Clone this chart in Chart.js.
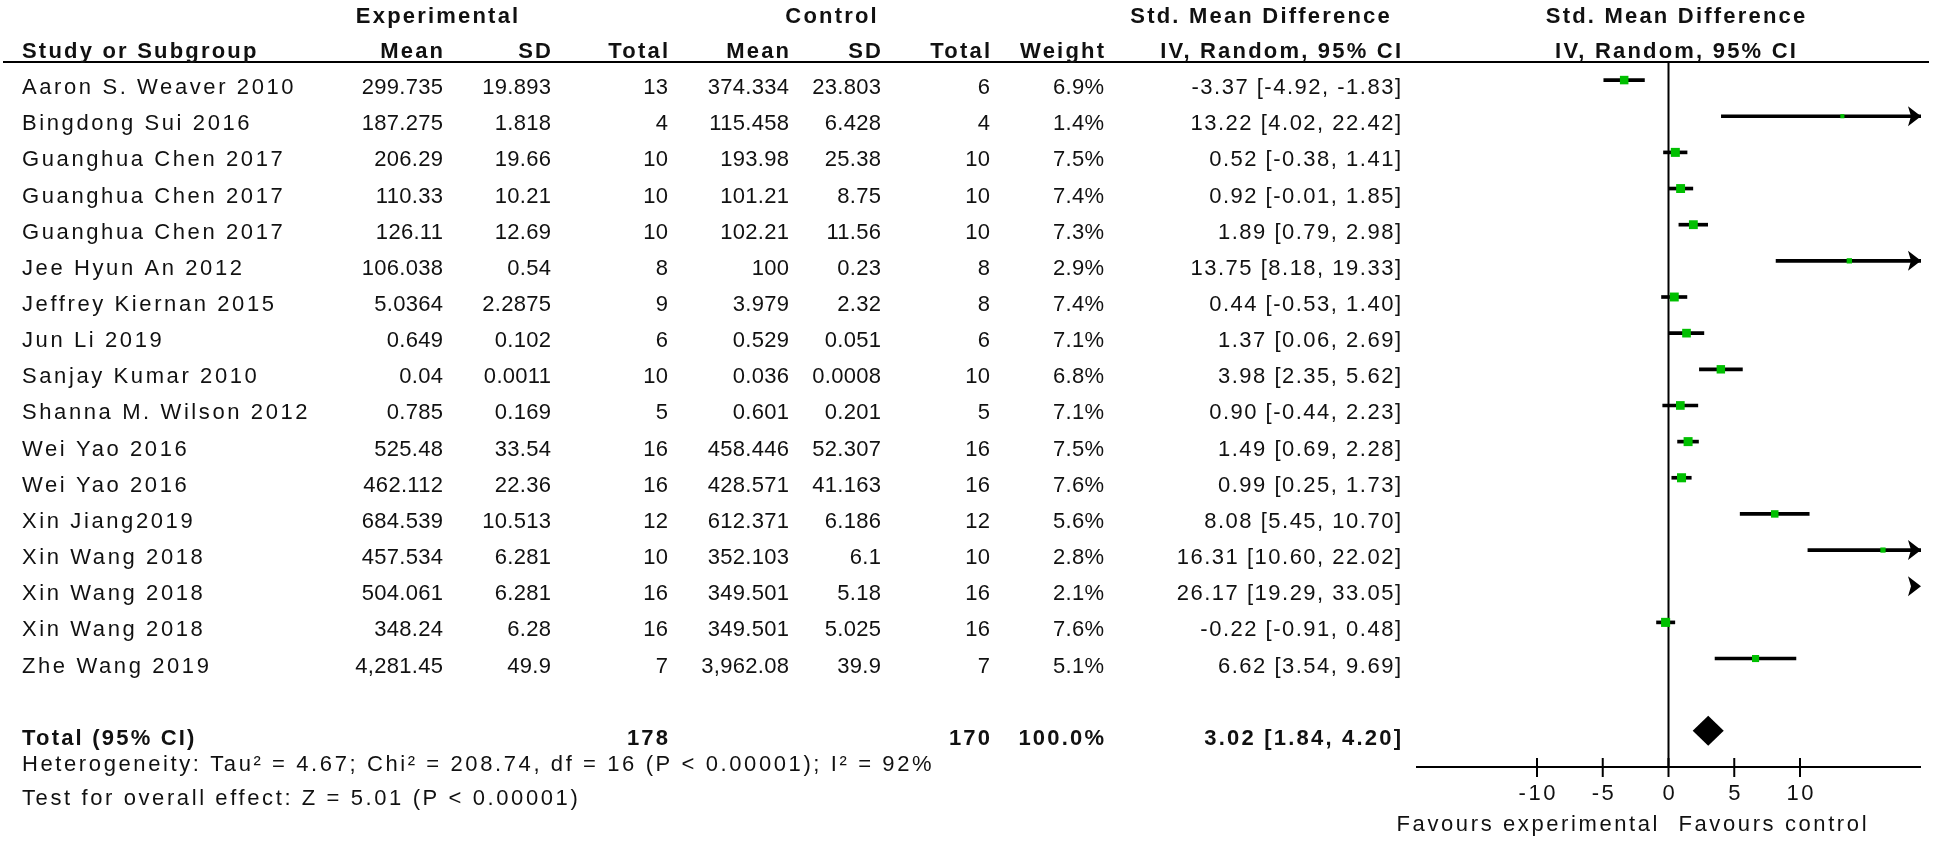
<!DOCTYPE html>
<html>
<head>
<meta charset="utf-8">
<script src="https://cdn.jsdelivr.net/npm/chart.js@4.4.1/dist/chart.umd.min.js"></script>
<style>
html,body{margin:0;padding:0;background:#fff;}
#wrap{position:relative;width:1946px;height:844px;}
</style>
</head>
<body>
<div id="wrap"><canvas id="forest"></canvas></div>
<script>
// forest plot: SMD, random effects
const studies = ["Aaron S. Weaver 2010","Bingdong Sui 2016","Guanghua Chen 2017","Guanghua Chen 2017","Guanghua Chen 2017","Jee Hyun An 2012","Jeffrey Kiernan 2015","Jun Li 2019","Sanjay Kumar 2010","Shanna M. Wilson 2012","Wei Yao 2016","Wei Yao 2016","Xin Jiang2019","Xin Wang 2018","Xin Wang 2018","Xin Wang 2018","Zhe Wang 2019"];
const expMean = ["299.735","187.275","206.29","110.33","126.11","106.038","5.0364","0.649","0.04","0.785","525.48","462.112","684.539","457.534","504.061","348.24","4,281.45"];
const expSD = ["19.893","1.818","19.66","10.21","12.69","0.54","2.2875","0.102","0.0011","0.169","33.54","22.36","10.513","6.281","6.281","6.28","49.9"];
const expN = [13,4,10,10,10,8,9,6,10,5,16,16,12,10,16,16,7];
const ctrlMean = ["374.334","115.458","193.98","101.21","102.21","100","3.979","0.529","0.036","0.601","458.446","428.571","612.371","352.103","349.501","349.501","3,962.08"];
const ctrlSD = ["23.803","6.428","25.38","8.75","11.56","0.23","2.32","0.051","0.0008","0.201","52.307","41.163","6.186","6.1","5.18","5.025","39.9"];
const ctrlN = [6,4,10,10,10,8,8,6,10,5,16,16,12,10,16,16,7];
const weight = [6.9,1.4,7.5,7.4,7.3,2.9,7.4,7.1,6.8,7.1,7.5,7.6,5.6,2.8,2.1,7.6,5.1];
const smd = [-3.37,13.22,0.52,0.92,1.89,13.75,0.44,1.37,3.98,0.90,1.49,0.99,8.08,16.31,26.17,-0.22,6.62];
const ciLo = [-4.92,4.02,-0.38,-0.01,0.79,8.18,-0.53,0.06,2.35,-0.44,0.69,0.25,5.45,10.60,19.29,-0.91,3.54];
const ciHi = [-1.83,22.42,1.41,1.85,2.98,19.33,1.40,2.69,5.62,2.23,2.28,1.73,10.70,22.02,33.05,0.48,9.69];

const totalExpN = 178, totalCtrlN = 170, totalWeight = "100.0%";
const pooled = 3.02, pooledLo = 1.84, pooledHi = 4.20;
const hetText = "Heterogeneity: Tau\u00b2 = 4.67; Chi\u00b2 = 208.74, df = 16 (P < 0.00001); I\u00b2 = 92%";
const testText = "Test for overall effect: Z = 5.01 (P < 0.00001)";
const xTicks = [-10, -5, 0, 5, 10];
const xMin = -19.2, xMax = 19.2;

const FONT = "'Liberation Sans', Arial, sans-serif";
const INK = "#111";
const GREEN = "#00bf00";
const COL = {name:22, expMean:443, expSD:551, expN:668, ctrlMean:789, ctrlSD:881, ctrlN:990, weight:1104, ci:1401};
const totalRow = studies.length + 1;

// letter spacing per kind of text
const SP = {word:2.6, num:0.3, ci:1.5, bold:2.2};

function fmt(v){ return v.toFixed(2); }

function txt(ctx, s, x, y, align, kind){
  const sp = SP[kind];
  ctx.font = (kind === "bold" ? "bold 22px " : "22px ") + FONT;
  ctx.letterSpacing = sp + "px";
  ctx.textAlign = align;
  ctx.textBaseline = "alphabetic";
  let dx = 0;
  if (align === "right") dx = sp;
  else if (align === "center") dx = sp/2;
  ctx.fillText(s, x + dx, y);
}

const forestDraw = {
  id: "forestDraw",
  beforeDatasetsDraw(chart){
    const {ctx, chartArea:a, scales:{x}} = chart;
    ctx.save();
    ctx.strokeStyle = "#000";
    ctx.lineWidth = 2;
    ctx.beginPath(); ctx.moveTo(3, a.top); ctx.lineTo(a.right + 8, a.top); ctx.stroke();
    const x0 = x.getPixelForValue(0);
    ctx.beginPath(); ctx.moveTo(x0, a.top); ctx.lineTo(x0, a.bottom); ctx.stroke();
    ctx.beginPath(); ctx.moveTo(a.left, a.bottom); ctx.lineTo(a.right, a.bottom); ctx.stroke();
    xTicks.forEach(function(t){
      const px = x.getPixelForValue(t);
      ctx.beginPath(); ctx.moveTo(px, a.bottom - 9); ctx.lineTo(px, a.bottom + 10); ctx.stroke();
    });
    ctx.restore();
  },
  afterDatasetsDraw(chart){
    const {ctx, scales:{x, y}} = chart;
    ctx.save();
    ctx.fillStyle = "#000";
    // arrows where CI runs past the axis
    ciHi.forEach(function(h, i){
      if (h <= x.max) return;
      const tip = x.getPixelForValue(x.max), py = y.getPixelForValue(i);
      ctx.beginPath();
      ctx.moveTo(tip, py);
      ctx.lineTo(tip - 13, py - 10);
      ctx.lineTo(tip - 10, py);
      ctx.lineTo(tip - 13, py + 10);
      ctx.closePath(); ctx.fill();
    });
    // pooled diamond
    const dy = y.getPixelForValue(totalRow);
    ctx.beginPath();
    ctx.moveTo(x.getPixelForValue(pooledLo), dy);
    ctx.lineTo(x.getPixelForValue(pooled), dy - 15);
    ctx.lineTo(x.getPixelForValue(pooledHi), dy);
    ctx.lineTo(x.getPixelForValue(pooled), dy + 15);
    ctx.closePath(); ctx.fill();

    // table
    ctx.fillStyle = INK;
    const h1 = 23, h2 = 58, midCI = 1260, midPlot = x.getPixelForValue(0) + 7;
    txt(ctx, "Experimental", 437, h1, "center", "bold");
    txt(ctx, "Control", 831, h1, "center", "bold");
    txt(ctx, "Std. Mean Difference", midCI, h1, "center", "bold");
    txt(ctx, "Std. Mean Difference", midPlot, h1, "center", "bold");
    txt(ctx, "Study or Subgroup", COL.name, h2, "left", "bold");
    txt(ctx, "Mean", COL.expMean, h2, "right", "bold");
    txt(ctx, "SD", COL.expSD, h2, "right", "bold");
    txt(ctx, "Total", COL.expN, h2, "right", "bold");
    txt(ctx, "Mean", COL.ctrlMean, h2, "right", "bold");
    txt(ctx, "SD", COL.ctrlSD, h2, "right", "bold");
    txt(ctx, "Total", COL.ctrlN, h2, "right", "bold");
    txt(ctx, "Weight", COL.weight, h2, "right", "bold");
    txt(ctx, "IV, Random, 95% CI", COL.ci, h2, "right", "bold");
    txt(ctx, "IV, Random, 95% CI", midPlot, h2, "center", "bold");

    studies.forEach(function(s, i){
      const by = y.getPixelForValue(i) + 14;
      txt(ctx, s, COL.name, by, "left", "word");
      txt(ctx, expMean[i], COL.expMean, by, "right", "num");
      txt(ctx, expSD[i], COL.expSD, by, "right", "num");
      txt(ctx, String(expN[i]), COL.expN, by, "right", "num");
      txt(ctx, ctrlMean[i], COL.ctrlMean, by, "right", "num");
      txt(ctx, ctrlSD[i], COL.ctrlSD, by, "right", "num");
      txt(ctx, String(ctrlN[i]), COL.ctrlN, by, "right", "num");
      txt(ctx, weight[i].toFixed(1) + "%", COL.weight, by, "right", "num");
      txt(ctx, fmt(smd[i]) + " [" + fmt(ciLo[i]) + ", " + fmt(ciHi[i]) + "]", COL.ci, by, "right", "ci");
    });

    const ty = dy + 14;
    txt(ctx, "Total (95% CI)", COL.name, ty, "left", "bold");
    txt(ctx, String(totalExpN), COL.expN, ty, "right", "bold");
    txt(ctx, String(totalCtrlN), COL.ctrlN, ty, "right", "bold");
    txt(ctx, totalWeight, COL.weight, ty, "right", "bold");
    txt(ctx, fmt(pooled) + " [" + fmt(pooledLo) + ", " + fmt(pooledHi) + "]", COL.ci, ty, "right", "bold");
    txt(ctx, hetText, COL.name, 771, "left", "word");
    txt(ctx, testText, COL.name, 805, "left", "word");

    xTicks.forEach(function(t){
      txt(ctx, String(t), x.getPixelForValue(t), 800, "center", "word");
    });
    const x0 = x.getPixelForValue(0);
    txt(ctx, "Favours experimental", x0 - 11, 831, "right", "word");
    txt(ctx, "Favours control", x0 + 10, 831, "left", "word");
    ctx.restore();
  }
};

const rows = studies.map(function(_, i){ return i; });

new Chart(document.getElementById("forest"), {
  type: "scatter",
  data: {
    datasets: [
      {
        type: "bar",
        indexAxis: "y",
        data: rows.map(function(i){ return {x:[ciLo[i], ciHi[i]], y:i}; }),
        backgroundColor: "#000",
        borderWidth: 0,
        barThickness: 3,
        clip: 0,
        order: 2
      },
      {
        type: "scatter",
        data: rows.map(function(i){ return {x:smd[i], y:i}; }),
        pointStyle: "rect",
        pointRadius: weight.map(function(w){ return (3 + 0.8*w) / Math.SQRT2; }),
        backgroundColor: GREEN,
        borderWidth: 0,
        clip: 0,
        order: 1
      }
    ]
  },
  options: {
    responsive: true,
    maintainAspectRatio: false,
    animation: false,
    events: [],
    layout: {padding: {left:1416, right:25, top:62, bottom:77}},
    plugins: {legend:{display:false}, tooltip:{enabled:false}},
    scales: {
      x: {type:"linear", min:xMin, max:xMax, offset:false, display:false},
      y: {type:"linear", min:-0.5, max:totalRow + 1, reverse:true, offset:false, grace:0, display:false}
    }
  },
  plugins: [forestDraw]
});
</script>
</body>
</html>
